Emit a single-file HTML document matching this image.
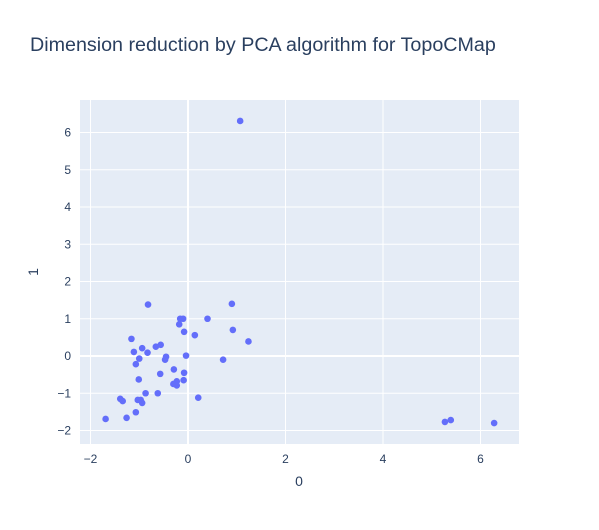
<!DOCTYPE html>
<html><head><meta charset="utf-8"><style>
body{margin:0;background:#fff;font-family:"Liberation Sans",sans-serif}
text{font-family:"Liberation Sans",sans-serif;fill:#2a3f5f}
</style></head><body>
<svg width="599" height="525">
<rect width="599" height="525" fill="#fff"/>
<text x="30" y="51" font-size="19.7">Dimension reduction by PCA algorithm for TopoCMap</text>
<rect x="80" y="100" width="439" height="344" fill="#e5ecf6"/>
<g id="grid"></g><g id="ticks"></g><g id="pts"></g>
<text x="299" y="486" font-size="14" text-anchor="middle">0</text>
<text x="38" y="272" font-size="14" text-anchor="middle" transform="rotate(-90 38 272)">1</text>
</svg>
<script>
const xs=[-0.82,0.90,-0.16,-0.10,0.40,-0.18,0.92,-0.08,0.14,-1.16,1.24,-0.56,-0.66,-0.94,-1.11,-0.83,-0.04,-0.45,-0.47,-1.0,0.72,-1.07,-0.29,-0.08,-0.57,-1.01,-0.09,-0.23,-0.30,-0.23,-0.87,-0.62,-1.39,-1.34,0.21,-1.03,-0.97,-0.94,-1.07,-1.26,-1.69,1.07,5.27,5.39,6.28];
const ys=[1.38,1.40,1.0,1.0,1.0,0.85,0.70,0.65,0.56,0.46,0.39,0.30,0.25,0.21,0.11,0.09,0.01,-0.02,-0.1,-0.07,-0.1,-0.22,-0.36,-0.45,-0.48,-0.63,-0.65,-0.68,-0.75,-0.79,-1.0,-1.0,-1.15,-1.21,-1.12,-1.18,-1.18,-1.26,-1.51,-1.66,-1.69,6.31,-1.77,-1.72,-1.80];
const xTicks=[-2,0,2,4,6];
const yTicks=[-2,-1,0,1,2,3,4,5,6];
const X=v=>188+v*48.75, Y=v=>356-v*37.25;
const NS='http://www.w3.org/2000/svg';
function mk(t,a,p){const e=document.createElementNS(NS,t);for(const k in a)e.setAttribute(k,a[k]);document.getElementById(p).appendChild(e);return e;}
xTicks.forEach(t=>{
 const l=mk('line',{x1:X(t),x2:X(t),y1:100,y2:444,stroke:'#fff','stroke-width':t===0?2:1},'grid');
 
 
 const s=mk('text',{x:X(t),y:463,'font-size':12,'text-anchor':'middle'},'ticks');s.textContent=t<0?'−'+(-t):t;
 
 
});
yTicks.forEach(t=>{
 const l=mk('line',{x1:80,x2:519,y1:Y(t),y2:Y(t),stroke:'#fff','stroke-width':t===0?2:1},'grid');
 
 
 const s=mk('text',{x:71,y:Y(t)+4,'font-size':12,'text-anchor':'end'},'ticks');s.textContent=t<0?'−'+(-t):t;
 
 
});
xs.forEach((v,i)=>{
 const c=mk('circle',{cx:X(v),cy:Y(ys[i]),r:3.3,fill:'#636efa'},'pts');
 
 
});
</script>
</body></html>
